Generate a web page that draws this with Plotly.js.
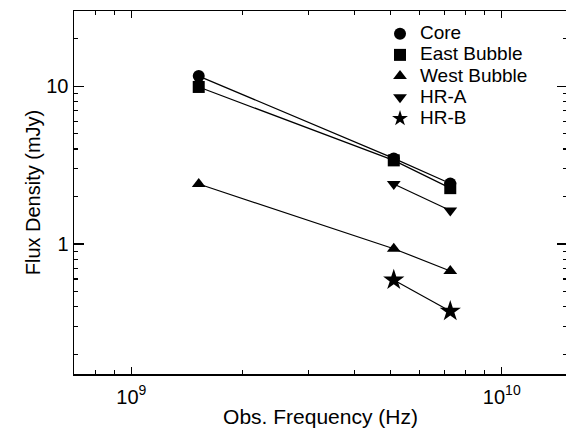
<!DOCTYPE html>
<html><head><meta charset="utf-8">
<script src="https://cdn.plot.ly/plotly-3.0.1.min.js"></script>
<style>html,body{margin:0;padding:0;overflow:hidden;background:#fff}</style>
</head><body><div id="chart" style="width:567px;height:428px"></div>
<script>
const seriesNames = ["Core", "East Bubble", "West Bubble", "HR-A", "HR-B"];
const seriesSymbols = ["circle", "square", "triangle-up", "triangle-down", "star"];
const coreFreq = [1.52e9, 5.11e9, 7.26e9];
const coreFlux = [11.6, 3.49, 2.42];
const eastFreq = [1.52e9, 5.11e9, 7.26e9];
const eastFlux = [9.9, 3.39, 2.26];
const westFreq = [1.52e9, 5.11e9, 7.26e9];
const westFlux = [2.40, 0.934, 0.675];
const hraFreq = [5.11e9, 7.26e9];
const hraFlux = [2.40, 1.63];
const hrbFreq = [5.11e9, 7.26e9];
const hrbFlux = [0.591, 0.375];
const xTickVals = [1e9, 1e10];
const xTickText = ["10<sup>9</sup>", "10<sup>10</sup>"];
const yTickVals = [1, 10];
const yTickText = ["1", "10"];

const freqs = [coreFreq, eastFreq, westFreq, hraFreq, hrbFreq];
const fluxes = [coreFlux, eastFlux, westFlux, hraFlux, hrbFlux];
const markerSizes = [12, 12, 12, 12, 16];

const lineTraces = seriesNames.map((name, i) => ({
  type: 'scatter',
  mode: 'lines',
  x: freqs[i],
  y: fluxes[i],
  showlegend: false,
  line: {color: '#000', width: 1.2}
}));
const markerTraces = seriesNames.map((name, i) => ({
  type: 'scatter',
  mode: 'markers',
  x: freqs[i],
  y: fluxes[i],
  name: '<span style="font-size:19px">' + name + '</span>',
  marker: {symbol: seriesSymbols[i], size: markerSizes[i], color: '#000', line: {width: 0}}
}));

const axisCommon = {
  type: 'log',
  tickmode: 'array',
  ticks: 'inside',
  tickwidth: 1.2,
  tickcolor: '#000',
  showline: true,
  linecolor: '#000',
  linewidth: 1.5,
  mirror: 'ticks',
  showgrid: false,
  zeroline: false,
  tickfont: {size: 20, color: '#000'},
  minor: {ticks: 'inside', ticklen: 4, tickwidth: 1.2, tickcolor: '#000', dtick: 'D1', showgrid: false}
};

const layout = {
  width: 567, height: 428,
  margin: {l: 74, r: 0, t: 11, b: 54},
  paper_bgcolor: '#fff', plot_bgcolor: '#fff',
  font: {family: '"Liberation Sans", Arial, sans-serif', color: '#000', size: 19},
  showlegend: true,
  hovermode: false,
  legend: {x: 0.6207, y: 0.9805, xanchor: 'left', yanchor: 'top', font: {size: 14}, bgcolor: 'rgba(0,0,0,0)', borderwidth: 0, itemwidth: 30, itemsizing: 'constant'},
  xaxis: Object.assign({}, axisCommon, {
    range: [Math.log10(7e8), Math.log10(1.5e10)],
    tickvals: xTickVals, ticktext: xTickText,
    ticklen: 7,
    ticklabelstandoff: 4,
    title: {text: 'Obs. Frequency (Hz)', font: {size: 21}, standoff: 7}
  }),
  yaxis: Object.assign({}, axisCommon, {
    range: [Math.log10(0.15), Math.log10(30)],
    tickvals: yTickVals, ticktext: yTickText,
    ticklen: 10,
    title: {text: 'Flux Density (mJy)', font: {size: 20}, standoff: 0}
  })
};

Plotly.newPlot('chart', lineTraces.concat(markerTraces), layout, {staticPlot: true, displayModeBar: false});
</script>
</body></html>
